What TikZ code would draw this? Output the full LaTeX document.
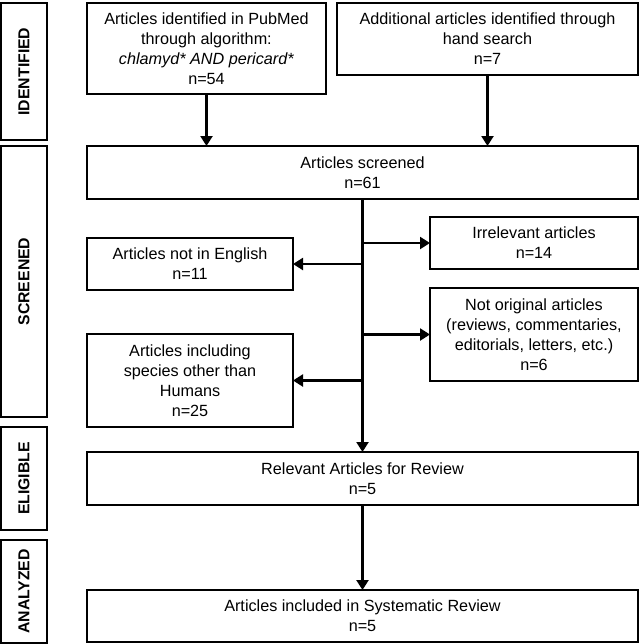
\documentclass[tikz,border=0pt]{standalone}
\usepackage{fontspec}
\setmainfont{Liberation Sans}
\usepackage{tikz}
\usetikzlibrary{arrows.meta,positioning}
\tikzstyle{arrow} = [line width=1.1pt,-{Triangle[length=5pt,width=6pt]}]
\tikzstyle{stagebox} = [rectangle, draw, line width=0.8pt, minimum width=23pt, inner sep=0pt, outer sep=0pt, font=\fontsize{7.9}{10}\selectfont\bfseries]
\tikzstyle{infobox} = [rectangle, draw, line width=0.8pt, align=center, inner sep=0pt, outer sep=0pt, font=\fontsize{8.1}{10}\selectfont]

\begin{document}
\begin{tikzpicture}
\useasboundingbox (0,0) rectangle (320pt,-322pt);
\node[stagebox, minimum height=68.5pt, anchor=north west] (identified) at (0.5pt,-1.5pt) {\rotatebox{90}{IDENTIFIED}};
\node[stagebox, minimum height=135.5pt, below=3pt of identified] (screenedlab) {\rotatebox{90}{SCREENED}};
\node[stagebox, minimum height=51.5pt, below=5pt of screenedlab] (eligible) {\rotatebox{90}{ELIGIBLE}};
\node[stagebox, minimum height=51.5pt, below=5pt of eligible] (analyzed) {\rotatebox{90}{ANALYZED}};

\node[infobox, minimum width=119.5pt, minimum height=45.5pt, right=20pt of identified.north east, anchor=north west] (pubmed) {Articles identified in PubMed\\through algorithm:\\\textit{chlamyd* AND pericard*}\\n=54};
\node[infobox, minimum width=150.5pt, minimum height=36pt, right=5.5pt of pubmed.north east, anchor=north west] (hand) {Additional articles identified through\\hand search\\n=7};
\node[infobox, minimum width=275.5pt, minimum height=26.5pt, right=20pt of screenedlab.north east, anchor=north west] (screened) {Articles screened\\n=61};
\node[infobox, minimum width=103pt, minimum height=26pt, below=19.5pt of screened.south west, anchor=north west] (english) {Articles not in English\\n=11};
\node[infobox, minimum width=103pt, minimum height=46.5pt, below=22pt of english] (species) {Articles including\\species other than\\Humans\\n=25};
\node[infobox, minimum width=104pt, minimum height=26pt, below=9pt of screened.south east, anchor=north east] (irrelevant) {Irrelevant articles\\n=14};
\node[infobox, minimum width=104pt, minimum height=46.5pt, below=9.5pt of irrelevant] (notorig) {Not original articles\\(reviews, commentaries,\\editorials, letters, etc.)\\n=6};
\node[infobox, minimum width=275.5pt, minimum height=26.5pt, below=12.5pt of species.south west, anchor=north west] (relevant) {Relevant Articles for Review\\n=5};
\node[infobox, minimum width=275.5pt, minimum height=26pt, below=42.5pt of relevant] (included) {Articles included in Systematic Review\\n=5};

\draw[arrow] (pubmed.south) -- (pubmed.south |- screened.north);
\draw[arrow] (hand.south) -- (hand.south |- screened.north);
\draw[arrow] (screened.south) -- (relevant.north);
\draw[arrow] (screened.south |- irrelevant.west) -- (irrelevant.west);
\draw[arrow] (screened.south |- english.east) -- (english.east);
\draw[arrow] (screened.south |- notorig.west) -- (notorig.west);
\draw[arrow] (screened.south |- species.east) -- (species.east);
\draw[arrow] (relevant.south) -- (included.north);
\end{tikzpicture}
\end{document}
